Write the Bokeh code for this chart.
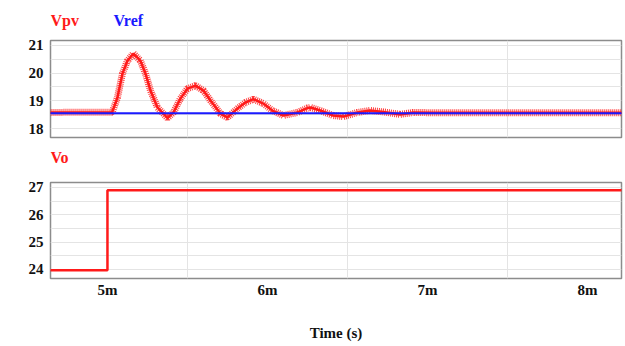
from bokeh.plotting import figure
from bokeh.layouts import column
from bokeh.models import FixedTicker, Range1d
from bokeh.core.properties import value
from bokeh.embed import file_html
from bokeh.resources import INLINE

# ---- data (time in ms) ----
vpv_time = [4.60, 5.03, 5.0625, 5.094, 5.125, 5.1625, 5.206, 5.2375, 5.269, 5.3125,
            5.375, 5.4125, 5.456, 5.50, 5.55, 5.60, 5.644, 5.706, 5.75, 5.8125,
            5.8625, 5.9125, 5.975, 6.03, 6.10, 6.1875, 6.25, 6.27, 6.33, 6.41,
            6.475, 6.5625, 6.64, 6.725, 6.83, 6.91, 7.04, 8.25]
vpv = [18.58, 18.59, 19.12, 19.99, 20.45, 20.71, 20.45, 19.99, 19.37, 18.76,
       18.38, 18.58, 19.08, 19.44, 19.55, 19.37, 19.01, 18.54, 18.40, 18.72,
       18.94, 19.06, 18.90, 18.65, 18.47, 18.58, 18.74, 18.76, 18.65, 18.47,
       18.43, 18.58, 18.65, 18.60, 18.51, 18.58, 18.57, 18.57]
vref_time = [4.60, 8.25]
vref = [18.55, 18.55]
vo_time = [4.60, 5.00, 5.00, 8.25]
vo = [23.97, 23.97, 26.90, 26.90]

x_ticks = [5, 6, 7, 8]
x_tick_labels = ["5m", "6m", "7m", "8m"]
y1_ticks = [18, 19, 20, 21]
y2_ticks = [24, 25, 26, 27]

RED = "#ff1a1a"
BLUE = "#1a1aff"
FONT = "Liberation Serif"
X0, X1 = 4.644, 8.213
FW = 571


def header(h, items):
    """A bare strip holding coloured signal names (pixel coords from frame top-left)."""
    f = figure(frame_width=FW, frame_height=h, min_border_left=50, min_border_right=4,
               min_border_top=0, min_border_bottom=0, output_backend="svg",
               toolbar_location=None, x_range=Range1d(0, FW), y_range=Range1d(h, 0))
    f.axis.visible = False
    f.grid.visible = False
    f.outline_line_color = None
    for x, y, txt, col in items:
        f.text(x=[x], y=[y], text=[txt], text_color=col, text_font=value(FONT),
               text_font_style="bold", text_font_size="16px", text_baseline="middle")
    return f


def style(p, yticks, ygrid):
    p.outline_line_color = "#8c8c8c"
    p.outline_line_width = 1.5
    p.yaxis.ticker = FixedTicker(ticks=yticks)
    p.yaxis.axis_line_color = None
    p.yaxis.major_tick_line_color = None
    p.yaxis.minor_tick_line_color = None
    p.yaxis.major_label_standoff = 1
    p.yaxis.major_label_text_font = FONT
    p.yaxis.major_label_text_font_style = "bold"
    p.yaxis.major_label_text_font_size = "15px"
    p.yaxis.major_label_text_color = "#111111"
    p.xgrid.ticker = FixedTicker(ticks=[5.5, 6.5, 7.5])
    p.ygrid.ticker = FixedTicker(ticks=ygrid)
    p.xgrid.grid_line_color = "#e4e4e4"
    p.ygrid.grid_line_color = "#e4e4e4"


h1 = header(38, [(0, 20, "Vpv", RED), (63, 20, "Vref", BLUE)])

p1 = figure(frame_width=FW, frame_height=97, min_border_left=50, min_border_right=4,
            min_border_top=2, min_border_bottom=8, output_backend="svg",
            toolbar_location=None, x_range=Range1d(X0, X1), y_range=Range1d(17.675, 21.18))
style(p1, y1_ticks, [18, 18.5, 19, 19.5, 20, 20.5, 21])
p1.xaxis.visible = False

p1.line(vpv_time, vpv, line_color=RED, line_width=2.5)
p1.line(vpv_time, vpv, line_color=RED, line_width=7, line_dash="1 1", line_alpha=0.85)
p1.line(vref_time, vref, line_color=BLUE, line_width=2)

h2 = header(35, [(0, 12, "Vo", RED)])

p2 = figure(frame_width=FW, frame_height=96, min_border_left=50, min_border_right=4,
            min_border_top=2, min_border_bottom=60, output_backend="svg",
            toolbar_location=None, x_range=p1.x_range, y_range=Range1d(23.67, 27.18))
style(p2, y2_ticks, [24, 24.5, 25, 25.5, 26, 26.5, 27])
p2.xaxis.ticker = FixedTicker(ticks=x_ticks)
p2.xaxis.major_label_overrides = {t: s for t, s in zip(x_ticks, x_tick_labels)}
p2.xaxis.axis_line_color = None
p2.xaxis.major_tick_line_color = None
p2.xaxis.minor_tick_line_color = None
p2.xaxis.major_label_standoff = -3
p2.xaxis.major_label_text_font = FONT
p2.xaxis.major_label_text_font_style = "bold"
p2.xaxis.major_label_text_font_size = "15px"
p2.xaxis.major_label_text_color = "#111111"
p2.xaxis.axis_label = "Time (s)"
p2.xaxis.axis_label_standoff = 24
p2.xaxis.axis_label_text_font = FONT
p2.xaxis.axis_label_text_font_style = "bold"
p2.xaxis.axis_label_text_font_size = "15px"
p2.xaxis.axis_label_text_color = "#111111"

p2.line(vo_time, vo, line_color=RED, line_width=2.5)

layout = column(h1, p1, h2, p2)
open("out.html", "w").write(file_html(layout, INLINE))
